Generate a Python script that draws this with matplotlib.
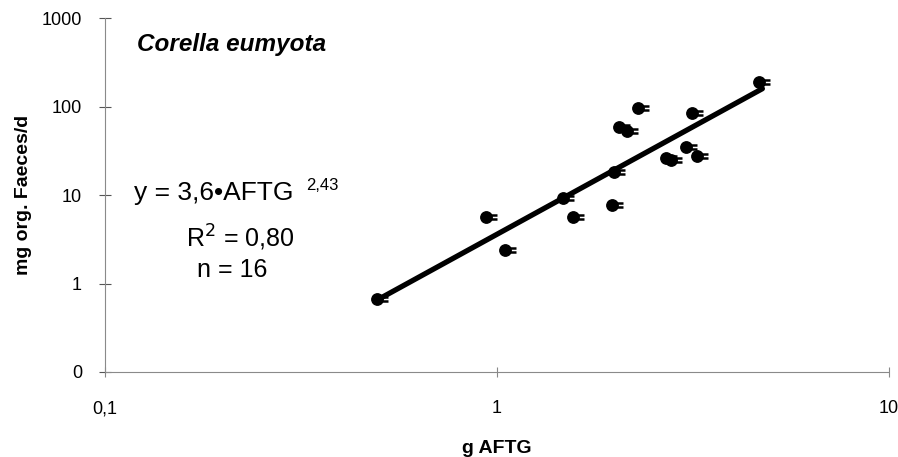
import matplotlib
matplotlib.use("Agg")
import matplotlib.pyplot as plt
import numpy as np
from matplotlib.path import Path
from matplotlib.ticker import FixedLocator, FixedFormatter, NullLocator

plt.rcParams['font.family'] = ['Liberation Sans', 'DejaVu Sans']

# Data
x_aftg = [0.494, 0.938, 1.048, 1.47, 1.56, 1.97, 1.99, 2.05, 2.15, 2.29,
          2.70, 2.78, 3.03, 3.24, 3.14, 4.66]
y_faeces = [0.668, 5.64, 2.39, 9.25, 5.64, 7.71, 18.2, 58.7, 52.9, 96.2,
            26.2, 24.9, 34.9, 27.6, 84.5, 189.0]
fit_a = 3.6
fit_b = 2.43
x_ticks = [0.1, 1, 10]
x_tick_labels = ["0,1", "1", "10"]
y_ticks = [0.1, 1, 10, 100, 1000]
y_tick_labels = ["0", "1", "10", "100", "1000"]

W, H = 898, 457
fig = plt.figure(figsize=(W / 100, H / 100), dpi=100)
ax = fig.add_axes([105 / W, 1 - 372 / H, (889 - 105) / W, (372 - 18) / H])
ax.set_xscale('log')
ax.set_yscale('log')
ax.set_xlim(0.1, 10)
ax.set_ylim(0.1, 1000)

# fit line
xf = np.geomspace(min(x_aftg), max(x_aftg) * 1.02, 50)
ax.plot(xf, fit_a * xf ** fit_b, color='black', lw=3.8, solid_capstyle='round', zorder=2)

# error-bar-like mark to the right of each dot
verts = [(0.0, 0.22), (1.0, 0.22), (0.0, -0.22), (1.0, -0.22)]
codes = [Path.MOVETO, Path.LINETO, Path.MOVETO, Path.LINETO]
errmark = Path(verts, codes)
ax.plot(x_aftg, y_faeces, linestyle='none', marker=errmark, markersize=16,
        markeredgewidth=1.8, markeredgecolor='black', fillstyle='none', zorder=3)
ax.plot(x_aftg, y_faeces, linestyle='none', marker='o', markersize=8.2,
        color='black', zorder=4)

# spines
for s in ['top', 'right']:
    ax.spines[s].set_visible(False)
for s in ['left', 'bottom']:
    ax.spines[s].set_color('#8a8a8a')
    ax.spines[s].set_linestyle((0, (1, 1)))
    ax.spines[s].set_linewidth(0.8)

ax.xaxis.set_major_locator(FixedLocator(x_ticks))
ax.xaxis.set_major_formatter(FixedFormatter(x_tick_labels))
ax.xaxis.set_minor_locator(NullLocator())
ax.yaxis.set_major_locator(FixedLocator(y_ticks))
ax.yaxis.set_major_formatter(FixedFormatter(y_tick_labels))
ax.yaxis.set_minor_locator(NullLocator())
ax.tick_params(axis='y', direction='inout', length=9, width=0.8, color='#555555',
               labelsize=13, pad=12)
ax.tick_params(axis='x', direction='inout', length=7, width=0.8, color='#888888',
               labelsize=13, pad=17)

ax.set_xlabel('g AFTG', fontsize=14, fontweight='bold', labelpad=16)
ax.set_ylabel('mg org. Faeces/d', fontsize=14, fontweight='bold', labelpad=7)

# texts
fig.text(137 / W, 1 - 44 / H, 'Corella eumyota', fontsize=17.5, fontweight='bold',
         fontstyle='italic', ha='left', va='center')
fig.text(293 / W, 1 - 193 / H, 'y = 3,6•AFTG', fontsize=19, ha='right', va='center')
fig.text(306 / W, 1 - 185 / H, '2,43', fontsize=12, ha='left', va='center')
fig.text(240 / W, 1 - 238 / H, 'R$^2$ = 0,80', fontsize=18, ha='center', va='center')
fig.text(232 / W, 1 - 270 / H, 'n = 16', fontsize=18, ha='center', va='center')

fig.savefig('out.png', dpi=100)
